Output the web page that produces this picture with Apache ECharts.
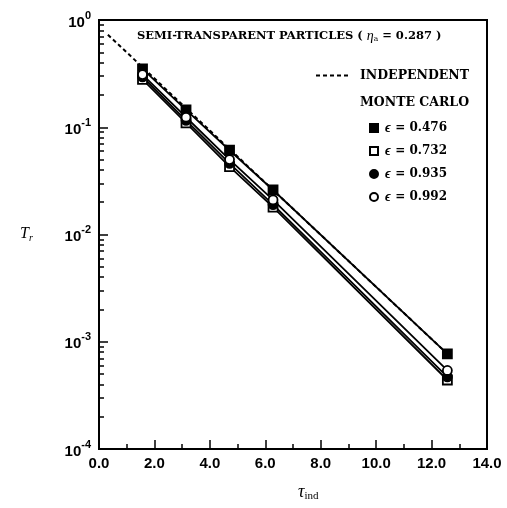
<!DOCTYPE html>
<html>
<head>
<meta charset="utf-8">
<script src="https://cdn.jsdelivr.net/npm/echarts@6/dist/echarts.min.js"></script>
<style>
  html, body { margin: 0; padding: 0; background: #fff; }
  #chart { width: 507px; height: 508px; }
</style>
</head>
<body>
<div id="chart"></div>
<script>
// Optical thickness values at which the Monte Carlo runs were made
const tauInd = [1.57, 3.14, 4.71, 6.28, 12.57];

// Transmittance T_r for each porosity
const eps0476 = [0.35, 0.145, 0.061, 0.026, 7.7e-4];
const eps0732 = [0.28, 0.110, 0.043, 0.018, 4.4e-4];
const eps0935 = [0.295, 0.116, 0.046, 0.019, 4.7e-4];
const eps0992 = [0.31, 0.124, 0.050, 0.021, 5.4e-4];

// Independent-scattering prediction (straight line on the log scale)
const indepTau = [0.32, 12.57];
const indepT = [0.73, 7.7e-4];

// Axis tick labels
const xTickLabels = ['0.0', '2.0', '4.0', '6.0', '8.0', '10.0', '12.0', '14.0'];
const yMinorTicks = [];
[1e-4, 1e-3, 1e-2, 1e-1].forEach(function (d) {
  for (let k = 2; k <= 9; k++) yMinorTicks.push(d * k);
});

const pairs = (xs, ys) => xs.map((x, i) => [x, ys[i]]);

const seriesDefs = [
  { name: '0.476', data: eps0476, symbol: 'rect', fill: '#000' },
  { name: '0.732', data: eps0732, symbol: 'rect', fill: '#fff' },
  { name: '0.935', data: eps0935, symbol: 'circle', fill: '#000' },
  { name: '0.992', data: eps0992, symbol: 'circle', fill: '#fff' }
];

const serifBold = '"DejaVu Serif", "Liberation Serif", serif';
const serifMath = '"Liberation Serif", "DejaVu Serif", serif';
const sansBold = '"Liberation Sans", Arial, sans-serif';

// Dashed stroke used as the legend key of the independent-scattering line
const dashIcon = 'path://M0,0h4v2h-4z M7,0h4v2h-4z M14,0h4v2h-4z M21,0h4v2h-4z M28,0h4v2h-4z';

const chart = echarts.init(document.getElementById('chart'), null, { renderer: 'canvas' });

const series = [{
  name: 'INDEPENDENT',
  type: 'line',
  data: pairs(indepTau, indepT),
  symbol: 'none',
  lineStyle: { color: '#000', width: 2, type: [4, 3] },
  itemStyle: { color: '#000' },
  z: 1
}].concat(seriesDefs.map(function (s) {
  return {
    name: s.name,
    type: 'line',
    data: pairs(tauInd, s.data),
    symbol: s.symbol,
    symbolSize: 9,
    lineStyle: { color: '#000', width: 1.8 },
    itemStyle: { color: s.fill, borderColor: '#000', borderWidth: 1.8 },
    z: 3
  };
}));

const option = {
  backgroundColor: '#fff',
  animation: false,
  grid: { left: 99, top: 20, width: 388, height: 429, show: true, borderColor: '#000', borderWidth: 2, backgroundColor: 'transparent' },
  xAxis: {
    type: 'value',
    min: 0, max: 14, interval: 2,
    axisLine: { show: true, lineStyle: { color: '#000', width: 2 } },
    axisTick: { show: true, inside: true, length: 9, lineStyle: { color: '#000', width: 1.5 } },
    minorTick: { show: true, splitNumber: 2, length: 5, lineStyle: { color: '#000', width: 1.5 } },
    splitLine: { show: false },
    axisLabel: {
      margin: 7,
      color: '#000',
      fontFamily: sansBold,
      fontWeight: 'bold',
      fontSize: 15,
      formatter: function (v) { return xTickLabels[Math.round(v / 2)]; }
    }
  },
  yAxis: [{
    type: 'log',
    logBase: 10,
    min: 1e-4, max: 1, interval: 1,
    axisLine: { show: true, lineStyle: { color: '#000', width: 2 } },
    axisTick: { show: true, inside: true, length: 9, lineStyle: { color: '#000', width: 1.5 } },
    splitLine: { show: false },
    axisLabel: {
      margin: 8,
      color: '#000',
      formatter: function (v) {
        const e = Math.round(Math.log10(v));
        return '{b|10}{s|' + (e < 0 ? '-' + (-e) : e) + '}';
      },
      rich: {
        b: { fontFamily: sansBold, fontWeight: 'bold', fontSize: 15, color: '#000', verticalAlign: 'bottom' },
        s: { fontFamily: sansBold, fontWeight: 'bold', fontSize: 11, color: '#000', padding: [0, 0, 9, 0], verticalAlign: 'bottom' }
      }
    }
  }, {
    type: 'log',
    logBase: 10,
    min: 1e-4, max: 1,
    position: 'left',
    axisLine: { show: false },
    axisLabel: { show: false },
    splitLine: { show: false },
    axisTick: { show: true, inside: true, length: 5, customValues: yMinorTicks, lineStyle: { color: '#000', width: 1.5 } }
  }],
  legend: [{
    data: [{ name: 'INDEPENDENT', icon: dashIcon }],
    left: 311,
    top: 64,
    itemWidth: 34,
    itemHeight: 2,
    itemGap: 10,
    textStyle: { fontFamily: serifBold, fontWeight: 'bold', fontSize: 12.5, color: '#000', padding: [0, 0, 0, 6] }
  }, {
    data: seriesDefs.map(function (s) {
      return { name: s.name, icon: s.symbol === 'rect' ? 'rect' : 'circle' };
    }),
    orient: 'vertical',
    left: 364,
    top: 116,
    itemWidth: 8,
    itemHeight: 8,
    itemGap: 9,
    formatter: function (name) { return '{e|ϵ} = ' + name; },
    textStyle: {
      fontFamily: serifBold, fontWeight: 'bold', fontSize: 12, color: '#000', padding: [0, 0, 0, 2],
      rich: { e: { fontFamily: serifMath, fontStyle: 'italic', fontSize: 14, color: '#000' } }
    }
  }],
  graphic: [{
    type: 'text',
    left: 137,
    top: 29,
    style: {
      text: 'SEMI-TRANSPARENT PARTICLES ( {i|η}{sub|a} = 0.287 )',
      font: 'bold 11.5px ' + serifBold,
      fill: '#000',
      rich: {
        i: { fontFamily: serifMath, fontStyle: 'italic', fontSize: 14, fill: '#000' },
        sub: { fontFamily: serifBold, fontSize: 7.5, fill: '#000', padding: [6, 0, 0, 0] }
      }
    }
  }, {
    type: 'text',
    left: 360,
    top: 96,
    style: { text: 'MONTE CARLO', font: 'bold 12.5px ' + serifBold, fill: '#000' }
  }, {
    type: 'text',
    left: 20,
    top: 226,
    style: {
      text: '{t|T}{r|r}',
      fill: '#000',
      rich: {
        t: { fontFamily: serifMath, fontStyle: 'italic', fontSize: 16, fill: '#000' },
        r: { fontFamily: serifMath, fontStyle: 'italic', fontSize: 10, fill: '#000', padding: [8, 0, 0, 0] }
      }
    }
  }, {
    type: 'text',
    left: 298,
    top: 483,
    style: {
      text: '{t|τ}{s|ind}',
      fill: '#000',
      rich: {
        t: { fontFamily: serifMath, fontStyle: 'italic', fontSize: 18, fill: '#000' },
        s: { fontFamily: serifMath, fontSize: 11, fill: '#000', padding: [9, 0, 0, 0] }
      }
    }
  }],
  series: series
};

chart.setOption(option);
</script>
</body>
</html>
